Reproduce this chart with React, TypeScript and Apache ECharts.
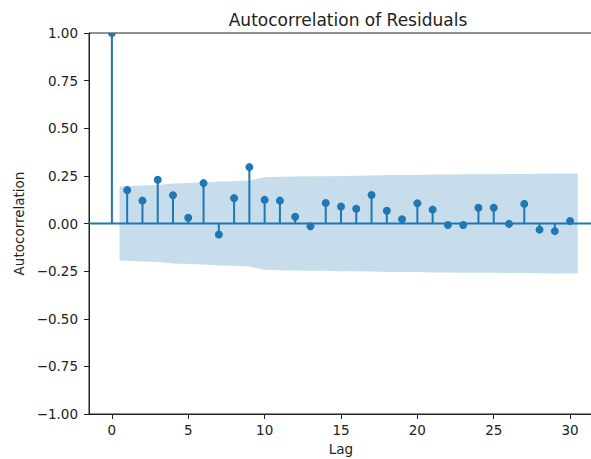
import React, { useEffect, useRef } from "react";
import * as echarts from "echarts";

const lags = [0, 1, 2, 3, 4, 5, 6, 7, 8, 9, 10, 11, 12, 13, 14, 15, 16, 17, 18, 19, 20, 21, 22, 23, 24, 25, 26, 27, 28, 29, 30];
const acfValues = [1.0, 0.175, 0.12, 0.23, 0.148, 0.03, 0.212, -0.058, 0.133, 0.296, 0.124, 0.12, 0.035, -0.015, 0.108, 0.089, 0.077, 0.15, 0.067, 0.022, 0.106, 0.073, -0.008, -0.008, 0.083, 0.083, -0.002, 0.103, -0.032, -0.04, 0.013];
// confidence band half-width for lags 1..30
const bandHalf = [0.194, 0.199, 0.202, 0.21, 0.213, 0.215, 0.221, 0.222, 0.226, 0.243, 0.245, 0.247, 0.248, 0.248, 0.25, 0.251, 0.252, 0.254, 0.255, 0.255, 0.257, 0.257, 0.258, 0.258, 0.259, 0.26, 0.26, 0.261, 0.262, 0.263];
const xTicks = [0, 5, 10, 15, 20, 25, 30];

const C0 = "#1f77b4";
const FONT = "DejaVu Sans";
const TXT = "#222";

export default function App() {
  const ref = useRef<HTMLDivElement>(null);
  useEffect(() => {
    if (!ref.current) return;
    const chart = echarts.init(ref.current, null, { renderer: "svg" });
    const bandLags = lags.slice(1).map((l, i, arr) => (i === 0 ? l - 0.5 : i === arr.length - 1 ? l + 0.5 : l));
    const stemData = lags.map((l, i) => [l, acfValues[i]]);
    chart.setOption({
      animation: false,
      backgroundColor: "#fff",
      title: {
        text: "Autocorrelation of Residuals",
        left: 343,
        top: 6,
        textAlign: "center",
        textStyle: { fontFamily: FONT, fontSize: 17, fontWeight: "normal", color: TXT },
      },
      grid: {
        left: 89,
        top: 33,
        right: -2,
        bottom: 45,
        containLabel: false,
        outerBoundsMode: "none",
        show: true,
        borderColor: "#222",
        borderWidth: 1,
        backgroundColor: "transparent",
      },
      xAxis: {
        type: "value",
        min: -1.5,
        max: 31.5,
        name: "Lag",
        nameLocation: "middle",
        nameGap: 28,
        nameTextStyle: { fontFamily: FONT, fontSize: 13.5, color: TXT },
        splitLine: { show: false },
        axisLine: { show: true, onZero: false, lineStyle: { color: "#222", width: 1 } },
        axisTick: { show: true, length: 5, customValues: xTicks, lineStyle: { color: "#222" } },
        axisLabel: { customValues: xTicks, margin: 9, fontFamily: FONT, fontSize: 13.5, color: TXT },
      },
      yAxis: {
        type: "value",
        min: -1,
        max: 1,
        interval: 0.25,
        name: "Autocorrelation",
        nameLocation: "middle",
        nameGap: 63,
        nameTextStyle: { fontFamily: FONT, fontSize: 13.5, color: TXT },
        splitLine: { show: false },
        axisLine: { show: true, onZero: false, lineStyle: { color: "#222", width: 1 } },
        axisTick: { show: true, length: 5, lineStyle: { color: "#222" } },
        axisLabel: {
          margin: 11,
          fontFamily: FONT,
          fontSize: 13.5,
          color: TXT,
          formatter: (v: number) => (v < 0 ? "\u2212" : "") + Math.abs(v).toFixed(2),
        },
      },
      series: [
        {
          type: "custom",
          clip: true,
          data: [[0, 0]],
          encode: { x: 0, y: 1 },
          z: 1,
          renderItem: (params: any, api: any) => {
            const upper = bandLags.map((x, i) => api.coord([x, bandHalf[i]]));
            const lower = bandLags.map((x, i) => api.coord([x, -bandHalf[i]])).reverse();
            const a = api.coord([-1.5, 0]);
            const b = api.coord([31.5, 0]);
            return {
              type: "group",
              children: [
                { type: "polygon", shape: { points: upper.concat(lower) }, style: { fill: "rgba(31,119,180,0.25)", stroke: "none" } },
                { type: "line", shape: { x1: a[0], y1: a[1], x2: b[0], y2: b[1] }, style: { stroke: C0, lineWidth: 2 } },
              ],
            };
          },
        },
        {
          type: "custom",
          clip: true,
          data: stemData,
          encode: { x: 0, y: 1 },
          z: 2,
          renderItem: (params: any, api: any) => {
            const base = api.coord([api.value(0), 0]);
            const p = api.coord([api.value(0), api.value(1)]);
            return {
              type: "group",
              children: [
                { type: "line", shape: { x1: base[0], y1: base[1], x2: p[0], y2: p[1] }, style: { stroke: C0, lineWidth: 2 } },
                { type: "circle", shape: { cx: p[0], cy: p[1], r: 4 }, style: { fill: C0 } },
              ],
            };
          },
        },
      ],
    });
    return () => chart.dispose();
  }, []);
  return <div ref={ref} style={{ position: "fixed", left: 0, top: 0, width: 591, height: 459 }} />;
}
